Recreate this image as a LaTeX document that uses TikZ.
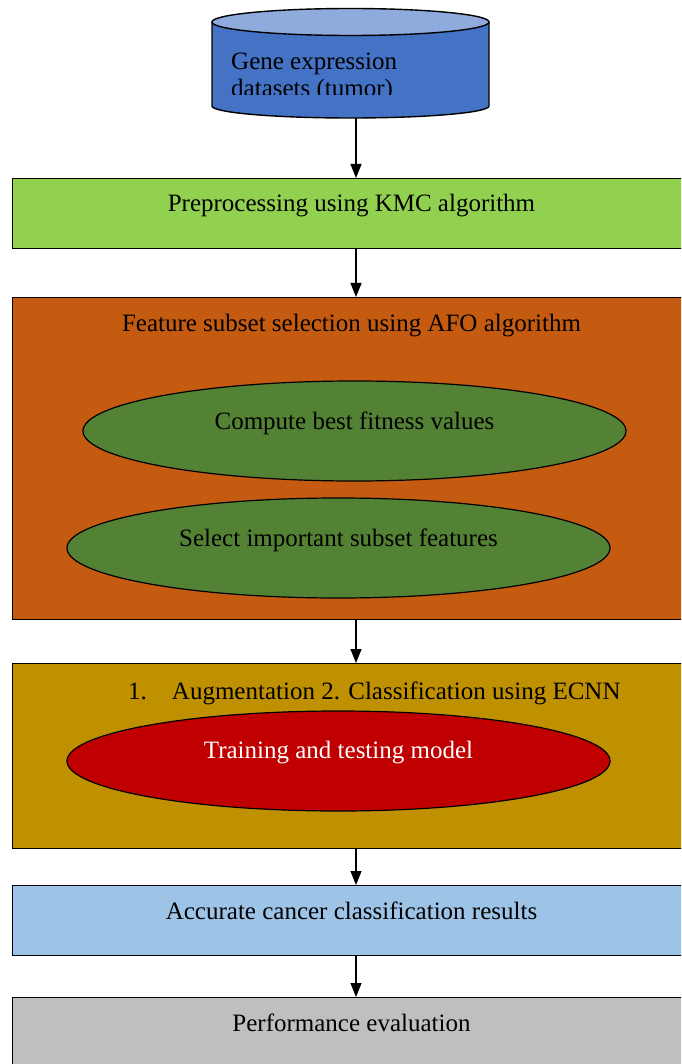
\documentclass[tikz,border=0pt]{standalone}
\usepackage{fontspec}
\setmainfont{Liberation Serif}
\usetikzlibrary{arrows.meta,shapes.geometric}
\definecolor{dbbody}{HTML}{4472C4}
\definecolor{dbtop}{HTML}{8FAADC}
\definecolor{prefill}{HTML}{92D050}
\definecolor{afofill}{HTML}{C55A11}
\definecolor{ovgreen}{HTML}{548235}
\definecolor{ecnnfill}{HTML}{BF9000}
\definecolor{ovred}{HTML}{C00000}
\definecolor{resfill}{HTML}{9DC3E6}
\definecolor{evalfill}{HTML}{BFBFBF}
\begin{document}
\begin{tikzpicture}[x=1pt,y=-1pt,
  lbl/.style={font=\fontsize{25}{27}\selectfont, inner sep=0pt, anchor=base},
  panel/.style={draw=black, line width=1.4pt, minimum width=679pt, anchor=north west, inner sep=0pt},
  oval/.style={ellipse, draw=black, line width=1.2pt, minimum width=543pt, minimum height=100pt, inner sep=0pt},
  arr/.style={-{Triangle[length=14pt,width=11pt]}, line width=1.2pt}]
\useasboundingbox (0,0) rectangle (681,1064);
\clip (0,0) rectangle (681,1064);
\fill[white] (0,0) rectangle (681,1064);

% database cylinder
\draw[fill=dbbody, line width=1.4pt] (212,22) -- (212,106) arc[start angle=180, end angle=0, x radius=138.5, y radius=12] -- (489,22);
\draw[fill=dbtop, line width=1.4pt] (350.5,22) ellipse[x radius=138.5, y radius=13.5];
\begin{scope}
  \clip (212,30) rectangle (489,95);
  \node[lbl, anchor=base west] (dbline1) at (231,70) {Gene expression};
  \node[lbl, anchor=base west] (dbline2) at (231,97) {datasets (tumor)};
\end{scope}
\coordinate (dbbot) at (356,118);
\coordinate (spine) at (356,0);

% process stages
\node[panel, fill=prefill, minimum height=70pt] (pre) at (12,178) {};
\node[lbl] (pretxt) at (351.5,212) {Preprocessing using KMC algorithm};

\node[panel, fill=afofill, minimum height=322pt] (afo) at (12,297) {};
\node[lbl] (afotxt) at (351.5,331) {Feature subset selection using AFO algorithm};
\node[oval, fill=ovgreen] (fit) at (354.5,431) {};
\node[lbl] (fittxt) at (354.5,429) {Compute best fitness values};
\node[oval, fill=ovgreen] (sel) at (338.5,548) {};
\node[lbl] (seltxt) at (338.5,546) {Select important subset features};

\node[panel, fill=ecnnfill, minimum height=185pt] (ecnn) at (12,663) {};
\node[lbl, anchor=base west] (ecnntxt) at (128,699) {1.\hspace{25pt}Augmentation 2. Classification using ECNN};
\node[oval, fill=ovred] (train) at (338.5,761) {};
\node[lbl, text=white] (traintxt) at (338.5,758) {Training and testing model};

\node[panel, fill=resfill, minimum height=70pt] (res) at (12,885) {};
\node[lbl] (restxt) at (351.5,919) {Accurate cancer classification results};

\node[panel, fill=evalfill, minimum height=100pt] (eval) at (12,997) {};
\node[lbl] (evaltxt) at (351.5,1031) {Performance evaluation};

% connectors
\draw[arr] (dbbot) -- (dbbot |- pre.north);
\draw[arr] (pre.south -| spine) -- (afo.north -| spine);
\draw[arr] (afo.south -| spine) -- (ecnn.north -| spine);
\draw[arr] (ecnn.south -| spine) -- (res.north -| spine);
\draw[arr] (res.south -| spine) -- (eval.north -| spine);
\end{tikzpicture}
\end{document}
